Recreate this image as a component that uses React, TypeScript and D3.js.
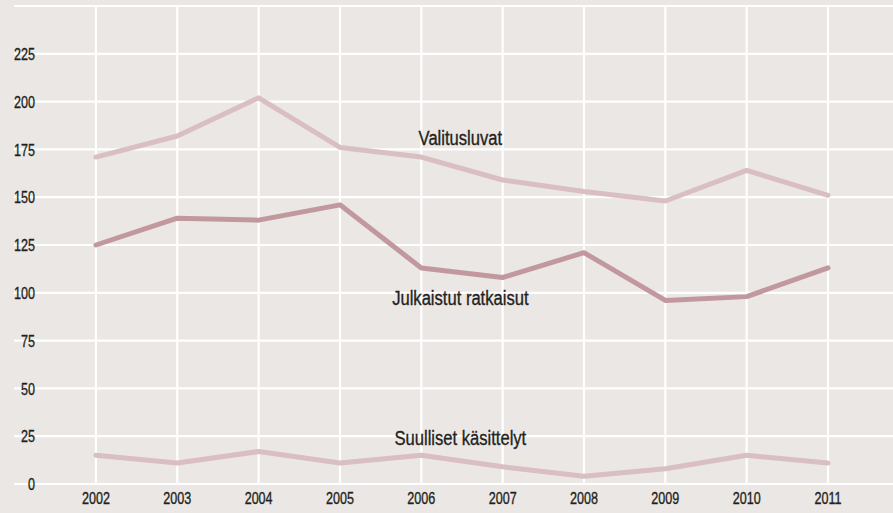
import * as d3 from 'd3';

const years = [2002, 2003, 2004, 2005, 2006, 2007, 2008, 2009, 2010, 2011];
const valitusluvat = [171, 182, 202, 176, 171, 159, 153, 148, 164, 151];
const julkaistut = [125, 139, 138, 146, 113, 108, 121, 96, 98, 113];
const suulliset = [15, 11, 17, 11, 15, 9, 4, 8, 15, 11];
const yTicks = [0, 25, 50, 75, 100, 125, 150, 175, 200, 225];

const seriesList = [
  { name: 'Valitusluvat', values: valitusluvat, color: '#d9bec2', labelYear: 2006.48, labelValue: 177.3 },
  { name: 'Julkaistut ratkaisut', values: julkaistut, color: '#c2989f', labelYear: 2006.48, labelValue: 93.6 },
  { name: 'Suulliset käsittelyt', values: suulliset, color: '#d9bec2', labelYear: 2006.48, labelValue: 20.4 },
];

const font = '"Liberation Sans", Arial, sans-serif';

// condensed look: regular sans squeezed horizontally, with a hair of stroke for weight
function NarrowText({ x, y, size, squeeze, anchor, dy, children }: any) {
  return (
    <g transform={`translate(${x},${y}) scale(${squeeze},1)`}>
      <text
        dy={dy}
        textAnchor={anchor}
        fontSize={size}
        fill="#231f20"
        stroke="#231f20"
        strokeWidth={0.35}
      >
        {children}
      </text>
    </g>
  );
}

export default function App() {
  const width = 893;
  const height = 513;

  // one year step ≈ 81.4px, left edge of the grid sits at 2001
  const x = d3.scaleLinear().domain([2001, 2011]).range([14.6, 828]);
  const y = d3.scaleLinear().domain([0, 250]).range([484, 6]);

  const line = d3
    .line<number>()
    .x((_, i) => x(years[i]))
    .y((d) => y(d));

  return (
    <svg
      width={width}
      height={height}
      style={{ position: 'fixed', left: 0, top: 0, display: 'block' }}
      fontFamily={font}
    >
      <rect width={width} height={height} fill="#ebe7e4" />

      {[...yTicks, 250].map((t) => (
        <line key={`h${t}`} x1={14} x2={width} y1={y(t)} y2={y(t)} stroke="#ffffff" strokeWidth={2.2} />
      ))}
      {years.map((yr) => (
        <line key={`v${yr}`} x1={x(yr)} x2={x(yr)} y1={y(250)} y2={y(0)} stroke="#ffffff" strokeWidth={2.2} />
      ))}

      {yTicks.map((t) => (
        <NarrowText key={`yt${t}`} x={35} y={y(t)} dy="0.36em" anchor="end" size={17} squeeze={0.74}>
          {t}
        </NarrowText>
      ))}
      {years.map((yr) => (
        <NarrowText key={`xt${yr}`} x={x(yr)} y={504} anchor="middle" size={17} squeeze={0.74}>
          {yr}
        </NarrowText>
      ))}

      {seriesList.map((s) => (
        <path
          key={s.name}
          d={line(s.values) ?? ''}
          fill="none"
          stroke={s.color}
          strokeWidth={5}
          strokeLinejoin="round"
          strokeLinecap="round"
        />
      ))}

      {seriesList.map((s) => (
        <NarrowText
          key={`lbl${s.name}`}
          x={x(s.labelYear)}
          y={y(s.labelValue)}
          anchor="middle"
          size={21}
          squeeze={0.79}
        >
          {s.name}
        </NarrowText>
      ))}
    </svg>
  );
}
